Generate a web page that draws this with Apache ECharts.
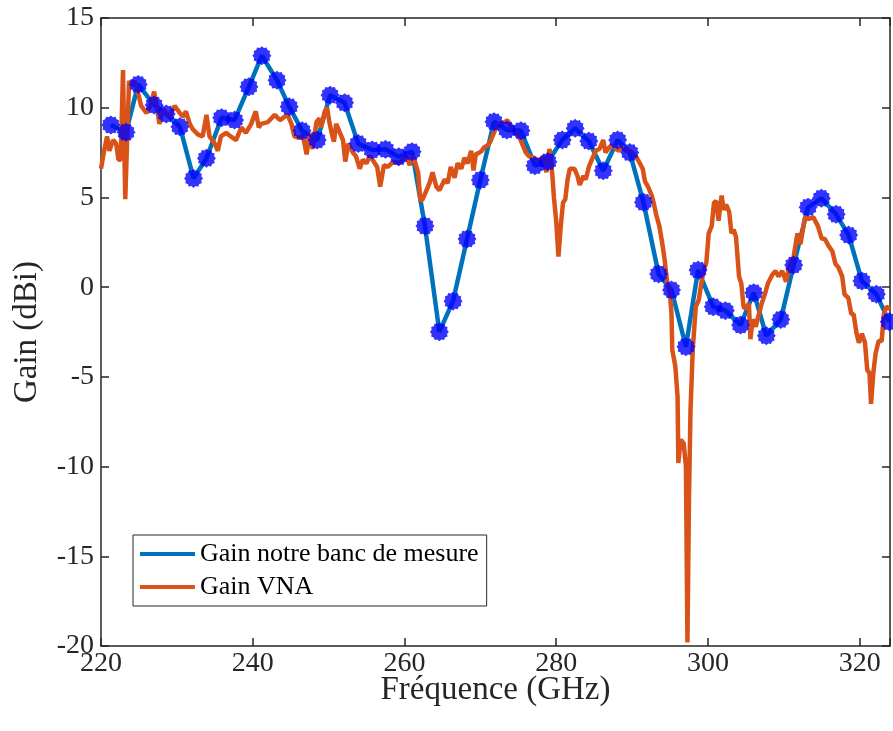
<!DOCTYPE html>
<html>
<head>
<meta charset="utf-8">
<script src="https://cdn.jsdelivr.net/npm/echarts@6/dist/echarts.min.js"></script>
<style>
html,body{margin:0;padding:0;background:#fff;}
#chart{width:893px;height:731px;}
</style>
</head>
<body>
<div id="chart"></div>
<script>
// Blue: measurement bench gain (markers)
const blueFreq = [221.3,223.3,224.9,227.0,228.6,230.4,232.2,233.9,235.9,237.6,239.5,241.2,243.2,244.8,246.5,248.5,250.2,252.1,253.9,255.75,257.5,259.25,261.0,262.7,264.6,266.4,268.25,270.0,271.8,273.5,275.35,277.2,278.9,280.8,282.5,284.3,286.2,288.1,289.7,291.5,293.5,295.2,297.1,298.7,300.7,302.3,304.3,306.05,307.7,309.6,311.3,313.2,314.95,316.9,318.55,320.3,322.2,323.9];
const blueGain = [9.04,8.63,11.3,10.15,9.65,8.94,6.06,7.18,9.44,9.31,11.17,12.9,11.53,10.06,8.72,8.2,10.7,10.28,8.0,7.64,7.68,7.27,7.55,3.41,-2.49,-0.78,2.68,5.97,9.22,8.76,8.72,6.77,6.99,8.2,8.85,8.14,6.49,8.2,7.5,4.73,0.73,-0.16,-3.32,0.95,-1.09,-1.31,-2.11,-0.31,-2.71,-1.8,1.23,4.45,4.95,4.06,2.9,0.34,-0.39,-1.93];

// Orange: VNA gain
const vnaFreq = [220.0,220.5,220.8,221.1,221.6,222.0,222.3,222.6,222.9,223.1,223.2,223.5,223.7,224.0,224.4,224.9,225.3,226.0,226.6,227.0,227.3,227.7,228.2,228.6,229.0,229.7,230.4,230.8,231.2,231.7,232.1,232.8,233.4,233.9,234.3,235.0,235.4,235.8,236.5,237.1,237.8,238.5,239.1,239.8,240.4,240.8,241.1,242.0,242.9,243.6,244.2,244.6,245.1,245.5,246.2,246.6,247.1,247.5,247.9,248.4,248.8,249.0,249.5,249.8,250.1,250.4,250.7,251.0,251.4,251.9,252.2,252.6,253.2,253.6,254.1,254.5,255.0,255.4,255.8,256.4,256.8,257.3,257.8,258.3,258.7,259.2,259.8,260.2,260.7,261.0,261.3,261.8,262.1,262.4,262.9,263.3,263.7,264.2,264.6,265.3,265.7,266.1,266.6,267.0,267.5,267.9,268.3,268.8,269.1,269.4,269.9,270.2,270.5,271.0,271.3,271.6,272.1,272.5,273.2,273.6,274.0,274.7,275.1,275.6,276.0,276.4,277.1,277.8,278.3,278.7,279.1,279.3,279.5,279.7,280.0,280.3,280.6,280.9,281.2,281.5,281.8,282.4,282.8,283.1,283.6,283.9,284.3,284.8,285.2,285.7,286.2,286.5,287.0,287.4,287.9,288.3,288.7,289.2,289.6,290.0,290.5,290.9,291.4,291.7,292.1,292.6,292.9,293.2,293.6,294.0,294.3,294.6,295.0,295.2,295.3,295.7,296.0,296.1,296.4,296.8,297.1,297.3,297.5,297.7,298.0,298.4,298.8,299.2,299.5,299.8,300.1,300.5,300.8,301.1,301.4,301.8,302.1,302.4,302.8,303.1,303.4,303.7,304.1,304.4,304.7,305.0,305.4,305.6,305.9,306.3,306.6,307.1,307.5,307.9,308.5,308.9,309.3,309.8,310.3,310.7,311.3,311.8,312.2,312.8,313.3,313.9,314.5,315.0,315.4,315.9,316.4,316.8,317.2,317.7,318.0,318.5,318.9,319.2,319.6,319.9,320.3,320.7,321.0,321.3,321.5,321.8,322.1,322.5,322.9,323.2,323.5,324.0];
const vnaGain = [6.6,7.8,8.4,7.6,8.2,8.0,7.1,7.1,12.1,7.1,4.9,8.9,11.5,11.2,11.5,10.8,10.1,9.7,10.2,10.9,10.2,9.1,9.9,9.7,9.5,10.1,9.7,9.5,9.8,9.1,8.8,8.5,8.4,9.6,8.4,8.0,7.6,8.4,8.6,8.4,8.2,8.9,8.6,9.1,9.8,8.9,9.1,9.2,9.6,9.3,9.5,9.6,9.1,8.4,8.3,8.5,7.4,8.6,7.7,9.2,9.4,8.9,9.8,10.0,9.2,8.6,8.1,9.1,8.7,8.2,7.0,8.0,7.5,7.3,6.6,7.1,6.9,7.3,7.1,6.7,5.6,6.8,6.7,6.9,7.0,6.9,7.1,7.4,6.8,7.3,7.1,6.4,4.8,4.9,5.4,5.8,6.4,5.6,5.4,6.0,5.8,6.7,6.1,6.9,6.6,7.2,6.9,7.6,6.5,7.4,7.5,7.6,7.8,7.9,8.1,8.4,8.9,9.1,9.2,9.3,8.9,8.7,8.4,7.9,7.5,7.3,7.2,7.0,7.3,6.4,7.7,7.2,6.2,5.0,3.7,1.7,3.4,4.7,4.9,6.0,6.6,6.6,6.2,5.7,6.2,6.0,6.7,7.2,7.6,7.7,8.2,7.5,7.8,7.9,7.7,7.6,7.8,7.6,7.6,7.5,7.3,7.0,6.6,5.9,5.6,5.1,4.6,4.0,3.4,2.4,1.5,0.4,-0.4,-1.5,-3.5,-4.4,-6.1,-9.8,-8.5,-8.7,-10.0,-19.8,-11.9,-6.9,-3.5,-1.1,-0.7,0.4,1.0,1.4,3.0,3.4,4.7,4.8,3.7,5.1,4.3,4.6,4.2,3.0,3.2,2.8,0.6,0.2,-1.1,-1.2,-0.9,-2.9,-1.8,-2.2,-1.7,-0.9,-0.4,0.2,0.7,0.9,0.6,0.9,0.3,1.1,1.7,3.0,2.4,3.9,3.8,3.9,3.4,2.7,2.7,2.3,2.0,1.3,1.1,0.6,-0.4,-0.6,-1.5,-1.5,-2.6,-3.1,-2.6,-3.1,-4.6,-4.8,-6.5,-4.8,-3.7,-3.0,-3.0,-1.5,-1.1,-1.2];

const xTicks = [220, 240, 260, 280, 300, 320];
const yTicks = [-20, -15, -10, -5, 0, 5, 10, 15];
const seriesNames = ['Gain notre banc de mesure', 'Gain VNA'];

function starPath(n, r1, r2) {
  let d = '';
  for (let i = 0; i < 2 * n; i++) {
    const r = i % 2 ? r2 : r1;
    const a = Math.PI * i / n;
    const x = 50 + r * Math.sin(a), y = 50 - r * Math.cos(a);
    d += (i ? 'L' : 'M') + x.toFixed(2) + ' ' + y.toFixed(2) + ' ';
  }
  return 'path://' + d + 'Z';
}

const FONT = 'Liberation Serif';
const AX = '#262626';
const blueData = blueFreq.map((f, i) => [f, blueGain[i]]);
const vnaData = vnaFreq.map((f, i) => [f, vnaGain[i]]);

const xBase = {
  type: 'value', min: 220, max: 324, interval: 20,
  splitLine: { show: false },
  axisLine: { show: true, onZero: false, lineStyle: { color: AX, width: 1.5 } },
  axisTick: { show: true, inside: true, length: 8, lineStyle: { color: AX, width: 1.5 } }
};
const yBase = {
  type: 'value', min: -20, max: 15, interval: 5,
  splitLine: { show: false },
  axisLine: { show: true, onZero: false, lineStyle: { color: AX, width: 1.5 } },
  axisTick: { show: true, inside: true, length: 8, lineStyle: { color: AX, width: 1.5 } }
};

const chart = echarts.init(document.getElementById('chart'), null, { renderer: 'canvas' });
chart.setOption({
  animation: false,
  backgroundColor: '#fff',
  grid: { left: 101, right: 2, top: 18, bottom: 85, containLabel: false },
  xAxis: [
    Object.assign({}, xBase, {
      position: 'bottom',
      name: 'Fréquence (GHz)', nameLocation: 'middle', nameGap: 28, nameMoveOverlap: false,
      nameTextStyle: { fontFamily: FONT, fontSize: 33, color: AX },
      axisLabel: { fontFamily: FONT, fontSize: 28, color: AX, margin: 4,
        formatter: v => xTicks.indexOf(v) >= 0 ? String(v) : '' }
    }),
    Object.assign({}, xBase, { position: 'top', axisLabel: { show: false } })
  ],
  yAxis: [
    Object.assign({}, yBase, {
      position: 'left',
      name: 'Gain (dBi)', nameLocation: 'middle', nameGap: 57, nameRotate: 90, nameMoveOverlap: false,
      nameTextStyle: { fontFamily: FONT, fontSize: 33, color: AX },
      axisLabel: { fontFamily: FONT, fontSize: 28, color: AX, margin: 7,
        formatter: v => yTicks.indexOf(v) >= 0 ? String(v) : '' }
    }),
    Object.assign({}, yBase, { position: 'right', axisLabel: { show: false } })
  ],
  legend: {
    orient: 'vertical', left: 133, top: 535,
    data: seriesNames,
    icon: 'rect', itemWidth: 55, itemHeight: 4, itemGap: 7,
    padding: [6, 8, 6, 7],
    borderColor: AX, borderWidth: 1, backgroundColor: '#fff',
    textStyle: { fontFamily: FONT, fontSize: 26, color: '#000' }
  },
  series: [
    {
      name: seriesNames[0], type: 'line', data: blueData,
      xAxisIndex: 0, yAxisIndex: 0,
      showSymbol: false, symbol: 'none',
      lineStyle: { color: '#0072BD', width: 4.5 }, itemStyle: { color: '#0072BD' },
      z: 2
    },
    {
      name: seriesNames[1], type: 'line', data: vnaData,
      xAxisIndex: 0, yAxisIndex: 0,
      showSymbol: false, symbol: 'none',
      lineStyle: { color: '#D95319', width: 4.5 }, itemStyle: { color: '#D95319' },
      z: 3
    },
    {
      name: 'markers', type: 'scatter', data: blueData,
      xAxisIndex: 0, yAxisIndex: 0,
      symbol: starPath(12, 50, 42), symbolSize: 19,
      itemStyle: { color: '#0000FF' },
      z: 4
    }
  ]
});
</script>
</body>
</html>
